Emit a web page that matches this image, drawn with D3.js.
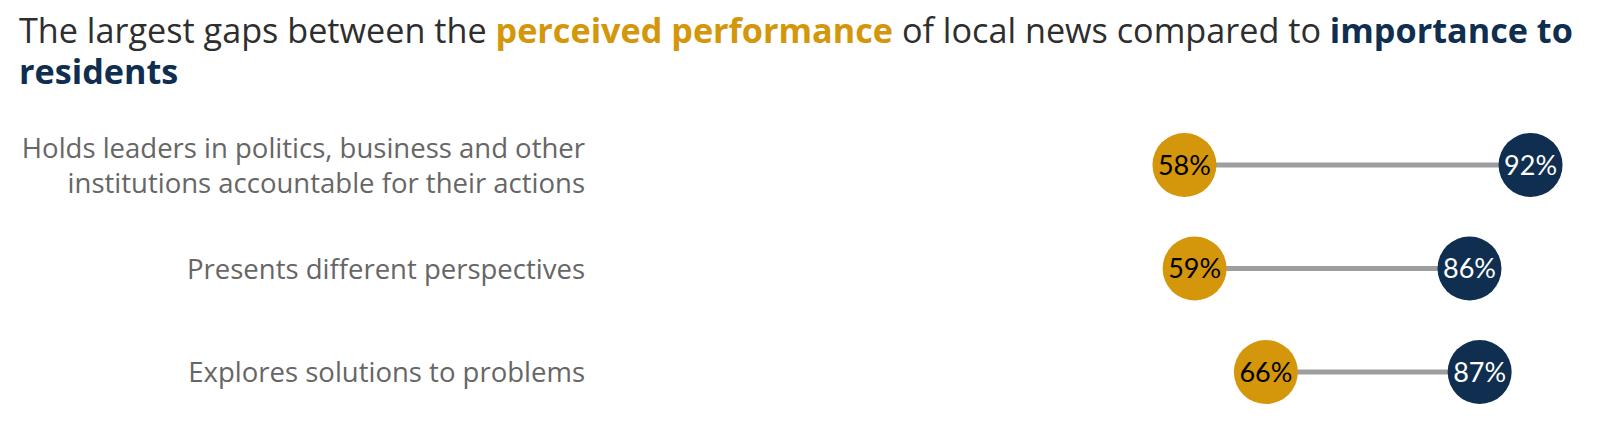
<!DOCTYPE html>
<html>
<head>
<meta charset="utf-8">
<script src="https://cdn.jsdelivr.net/npm/d3@7"></script>
<style>
  body { margin: 0; background: #fff; }
  svg { display: block; font-family: "Open Sans", Lato, sans-serif; }
</style>
</head>
<body>
<div id="chart"></div>
<script>
// Chart data
const categories = [
  ["Holds leaders in politics, business and other", "institutions accountable for their actions"],
  ["Presents different perspectives"],
  ["Explores solutions to problems"]
];
const performance = [58, 59, 66];
const importance = [92, 86, 87];

// Dimensions
const width = 1600;
const height = 424;
const labelRight = 585;

const gold = "#d4960a";
const navy = "#0f2e50";

const svg = d3.select("#chart")
  .append("svg")
  .attr("width", width)
  .attr("height", height);

// Title (two lines)
const title = svg.append("g")
  .attr("font-size", 34.2)
  .attr("fill", "#2e2e2e");

const line1 = title.append("text").attr("x", 19).attr("y", 43);
line1.append("tspan").text("The largest gaps between the ");
line1.append("tspan").attr("fill", gold).attr("font-weight", "bold").text("perceived performance");
line1.append("tspan").text(" of local news compared to ");
line1.append("tspan").attr("fill", navy).attr("font-weight", "bold").text("importance to");

title.append("text").attr("x", 19).attr("y", 84)
  .attr("fill", navy).attr("font-weight", "bold").text("residents");

// Scales
const x = d3.scaleLinear()
  .domain([0, 100])
  .range([594, 1612]);

const y = d3.scalePoint()
  .domain(d3.range(categories.length))
  .range([165, 372]);

const rows = svg.selectAll(".row")
  .data(categories)
  .enter()
  .append("g")
  .attr("class", "row");

// Category labels
rows.append("text")
  .attr("text-anchor", "end")
  .attr("font-size", 27.5)
  .attr("fill", "#666")
  .each(function(d, i) {
    const lineH = 35;
    const top = y(i) + 10 - (d.length - 1) * lineH / 2;
    d3.select(this).selectAll("tspan")
      .data(d)
      .enter()
      .append("tspan")
      .attr("x", labelRight)
      .attr("y", (t, j) => top + j * lineH)
      .text(t => t);
  });

// Connecting lines
rows.append("line")
  .attr("x1", (d, i) => x(performance[i]))
  .attr("x2", (d, i) => x(importance[i]))
  .attr("y1", (d, i) => y(i))
  .attr("y2", (d, i) => y(i))
  .attr("stroke", "#9e9e9e")
  .attr("stroke-width", 5);

const r = 32;

// Performance dots
rows.append("circle")
  .attr("cx", (d, i) => x(performance[i]))
  .attr("cy", (d, i) => y(i))
  .attr("r", r)
  .attr("fill", gold);

rows.append("text")
  .attr("x", (d, i) => x(performance[i]))
  .attr("y", (d, i) => y(i))
  .attr("dy", "0.36em")
  .attr("text-anchor", "middle")
  .attr("font-family", "Lato, sans-serif")
  .attr("font-size", 27)
  .attr("fill", "#000")
  .text((d, i) => performance[i] + "%");

// Importance dots
rows.append("circle")
  .attr("cx", (d, i) => x(importance[i]))
  .attr("cy", (d, i) => y(i))
  .attr("r", r)
  .attr("fill", navy);

rows.append("text")
  .attr("x", (d, i) => x(importance[i]))
  .attr("y", (d, i) => y(i))
  .attr("dy", "0.36em")
  .attr("text-anchor", "middle")
  .attr("font-family", "Lato, sans-serif")
  .attr("font-size", 27)
  .attr("fill", "#fff")
  .text((d, i) => importance[i] + "%");
</script>
</body>
</html>
